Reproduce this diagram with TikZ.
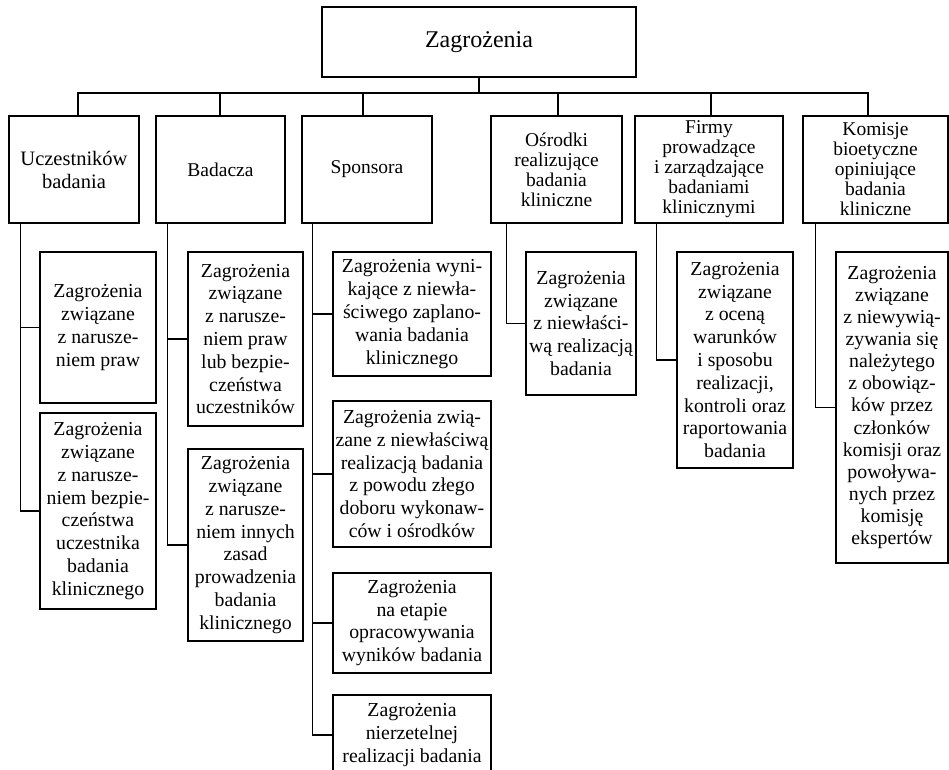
\documentclass[tikz,border=0pt]{standalone}
\usepackage{fontspec}
\setmainfont{Liberation Serif}
\begin{document}
\begin{tikzpicture}[x=1pt,y=-1pt,
  box/.style={draw, line width=1.5pt, align=center, inner sep=0pt},
  topbox/.style={box, font=\fontsize{24}{28}\selectfont},
  lvlone/.style={box, font=\fontsize{19.5}{20}\selectfont, minimum height=107pt},
  lvltwo/.style={box, font=\fontsize{19.8}{22.8}\selectfont},
  link/.style={line width=1.5pt}]
\useasboundingbox (0,0) rectangle (949,769);
\clip (0,0) rectangle (949,769);
% top
\node[topbox, minimum width=314pt, minimum height=70pt] (T) at (479,42) {Zagrożenia};
% level one
\node[lvlone, minimum width=130pt, font=\fontsize{20.5}{23}\selectfont] (U) at (74,169.5) {Uczestników\\badania};
\node[lvlone, minimum width=129pt] (B) at (220.5,169.5) {Badacza};
\node[lvlone, minimum width=130pt] (S) at (367,169.5) {Sponsora};
\node[lvlone, minimum width=131pt] (O) at (556.5,169.5) {Ośrodki\\realizujące\\badania\\kliniczne};
\node[lvlone, minimum width=148pt] (F) at (709,169.5) {Firmy\\prowadzące\\i zarządzające\\badaniami\\klinicznymi};
\node[lvlone, minimum width=145pt] (K) at (875.5,169.5) {Komisje\\bioetyczne\\opiniujące\\badania\\kliniczne};
% level two
\node[lvltwo, minimum width=116pt, minimum height=151pt] (UA) at (98,327.5) {Zagrożenia\\związane\\z narusze-\\niem praw};
\node[lvltwo, minimum width=116pt, minimum height=196pt] (UB) at (98,511) {Zagrożenia\\związane\\z narusze-\\niem bezpie-\\czeństwa\\uczestnika\\badania\\klinicznego};
\node[lvltwo, minimum width=115pt, minimum height=174pt] (BA) at (245.5,339) {Zagrożenia\\związane\\z narusze-\\niem praw\\lub bezpie-\\czeństwa\\uczestników};
\node[lvltwo, minimum width=115pt, minimum height=192pt] (BB) at (245.5,545) {Zagrożenia\\związane\\z narusze-\\niem innych\\zasad\\prowadzenia\\badania\\klinicznego};
\node[lvltwo, minimum width=158pt, minimum height=124pt] (S1) at (412,314) {Zagrożenia wyni-\\kające z niewła-\\ściwego zaplano-\\wania badania\\klinicznego};
\node[lvltwo, minimum width=158pt, minimum height=146pt] (S2) at (412,474) {Zagrożenia zwią-\\zane z niewłaściwą\\realizacją badania\\z powodu złego\\doboru wykonaw-\\ców i ośrodków};
\node[lvltwo, minimum width=158pt, minimum height=100pt] (S3) at (412,623) {Zagrożenia\\na etapie\\opracowywania\\wyników badania};
\node[lvltwo, minimum width=158pt, minimum height=80pt] (S4) at (412,735) {Zagrożenia\\nierzetelnej\\realizacji badania};
\node[lvltwo, minimum width=110pt, minimum height=143pt] (OA) at (581,323.5) {Zagrożenia\\związane\\z niewłaści-\\wą realizacją\\badania};
\node[lvltwo, minimum width=116pt, minimum height=216pt] (FA) at (735,360) {Zagrożenia\\związane\\z oceną\\warunków\\i sposobu\\realizacji,\\kontroli oraz\\raportowania\\badania};
\node[lvltwo, minimum width=112pt, minimum height=311pt, font=\fontsize{19.8}{22.1}\selectfont] (KA) at (892,407.5) {Zagrożenia\\związane\\z niewywią-\\zywania się\\należytego\\z obowiąz-\\ków przez\\członków\\komisji oraz\\powoływa-\\nych przez\\komisję\\ekspertów};
% bus
\coordinate (bus) at (0,93);
\draw[link] (T.south) -- (T.south |- bus);
\draw[link] ([xshift=4pt]U.north) |- ([xshift=-7.5pt]K.north |- bus) -- ([xshift=-7.5pt]K.north);
\draw[link] ([xshift=-0.5pt]B.north) -- ([xshift=-0.5pt]B.north |- bus);
\draw[link] ([xshift=-4pt]S.north) -- ([xshift=-4pt]S.north |- bus);
\draw[link] ([xshift=1.5pt]O.north) -- ([xshift=1.5pt]O.north |- bus);
\draw[link] ([xshift=2pt]F.north) -- ([xshift=2pt]F.north |- bus);
% spines
\coordinate (u0) at ([xshift=12pt]U.south west);
\coordinate (b0) at ([xshift=12pt]B.south west);
\coordinate (s0) at ([xshift=11pt]S.south west);
\coordinate (o0) at ([xshift=16pt]O.south west);
\coordinate (f0) at ([xshift=22pt]F.south west);
\coordinate (k0) at ([xshift=13pt]K.south west);
\draw[link] (u0) |- (UB.west);
\draw[link] (UA.west) -- (UA.west -| u0);
\draw[link] (b0) |- (BB.west);
\draw[link] (BA.west) -- (BA.west -| b0);
\draw[link] (s0) |- (S4.west);
\draw[link] (S1.west) -- (S1.west -| s0);
\draw[link] (S2.west) -- (S2.west -| s0);
\draw[link] (S3.west) -- (S3.west -| s0);
\draw[link] (o0) |- (OA.west);
\draw[link] (f0) |- (FA.west);
\draw[link] (k0) |- (KA.west);
\end{tikzpicture}
\end{document}
